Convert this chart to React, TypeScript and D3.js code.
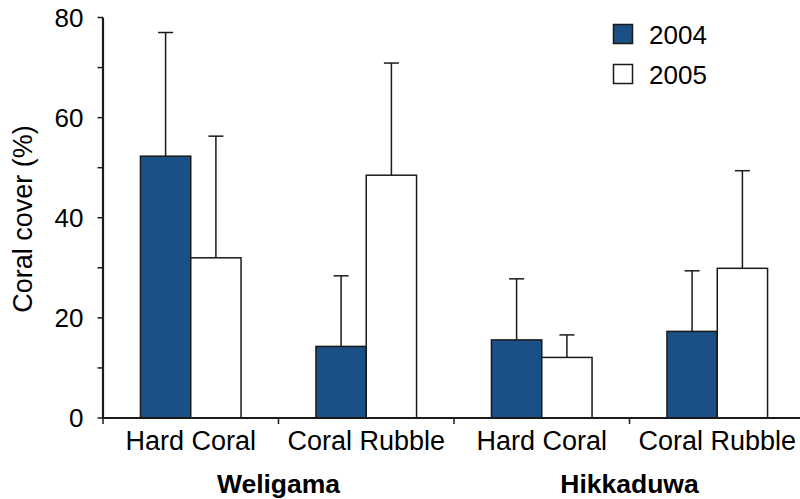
import React from "react";
import * as d3 from "d3";

const categories = ["Hard Coral", "Coral Rubble", "Hard Coral", "Coral Rubble"];
const sites = ["Weligama", "Hikkaduwa"];
const years = ["2004", "2005"];
const values2004 = [52.3, 14.3, 15.6, 17.3];
const errors2004 = [24.7, 14.1, 12.2, 12.1];
const values2005 = [32.0, 48.5, 12.1, 29.9];
const errors2005 = [24.3, 22.4, 4.5, 19.5];
const yTicks = [0, 20, 40, 60, 80];
const yMinorTicks = [0, 10, 20, 30, 40, 50, 60, 70, 80];

const W = 800;
const H = 499;
const FONT = "'Liberation Sans', Arial, Helvetica, sans-serif";
const BLUE = "#1a5085";
const STROKE = "#1a1a1a";

export default function App() {
  const y = d3.scaleLinear().domain([0, 80]).range([418, 17.5]);
  const x = d3
    .scaleBand<number>()
    .domain(d3.range(categories.length))
    .range([103, 805])
    .padding(0);
  const bw = 50.3;
  const capHalf = 7.5;
  const series = [
    { vals: values2004, errs: errors2004, fill: BLUE, off: -bw },
    { vals: values2005, errs: errors2005, fill: "#ffffff", off: 0 },
  ];
  const siteCenters = [
    (x(0)! + x(1)! + x.bandwidth()) / 2,
    (x(2)! + x(3)! + x.bandwidth()) / 2,
  ];

  return (
    <svg
      width={W}
      height={H}
      style={{ position: "absolute", left: 0, top: 0, background: "#fff" }}
      fontFamily={FONT}
    >
      {/* bars */}
      {series.map((s, si) =>
        s.vals.map((v, i) => {
          const cx = x(i)! + x.bandwidth() / 2;
          const x0 = cx + s.off;
          const mid = x0 + bw / 2;
          const yTop = y(v);
          const yErr = y(v + s.errs[i]);
          return (
            <g key={`${si}-${i}`}>
              <line x1={mid} x2={mid} y1={yTop} y2={yErr} stroke={STROKE} strokeWidth={1.5} />
              <line x1={mid - capHalf} x2={mid + capHalf} y1={yErr} y2={yErr} stroke={STROKE} strokeWidth={1.5} />
              <rect
                x={x0}
                y={yTop}
                width={bw}
                height={y(0) - yTop}
                fill={s.fill}
                stroke={STROKE}
                strokeWidth={1.5}
              />
            </g>
          );
        })
      )}

      {/* y axis */}
      <line x1={103} x2={103} y1={y(80)} y2={y(0) + 1} stroke={STROKE} strokeWidth={2.2} />
      {yMinorTicks.map((t) => (
        <line key={t} x1={97.5} x2={103} y1={y(t)} y2={y(t)} stroke={STROKE} strokeWidth={1.5} />
      ))}
      {yTicks.map((t) => (
        <text key={t} x={83.5} y={y(t) + 9} textAnchor="end" fontSize={26} fill="#000">
          {t}
        </text>
      ))}
      <text
        transform={`translate(31.5,219) rotate(-90)`}
        textAnchor="middle"
        fontSize={27}
        fill="#000"
      >
        Coral cover (%)
      </text>

      {/* x axis */}
      <line x1={102} x2={805} y1={y(0)} y2={y(0)} stroke={STROKE} strokeWidth={2.2} />
      {d3.range(categories.length).map((i) => (
        <line key={i} x1={x(i)!} x2={x(i)!} y1={y(0)} y2={y(0) + 6} stroke={STROKE} strokeWidth={1.5} />
      ))}
      {categories.map((c, i) => (
        <text key={i} x={x(i)! + x.bandwidth() / 2} y={450} textAnchor="middle" fontSize={27} fill="#000">
          {c}
        </text>
      ))}
      {sites.map((s, i) => (
        <text key={s} x={siteCenters[i]} y={493} textAnchor="middle" fontSize={26.5} fontWeight="bold" fill="#000">
          {s}
        </text>
      ))}

      {/* legend */}
      {years.map((yr, i) => (
        <g key={yr}>
          <rect
            x={613.5}
            y={24.5 + i * 40}
            width={19}
            height={19}
            fill={i === 0 ? BLUE : "#fff"}
            stroke={STROKE}
            strokeWidth={1.5}
          />
          <text x={649} y={43.5 + i * 40} fontSize={26} fill="#000">
            {yr}
          </text>
        </g>
      ))}
    </svg>
  );
}
